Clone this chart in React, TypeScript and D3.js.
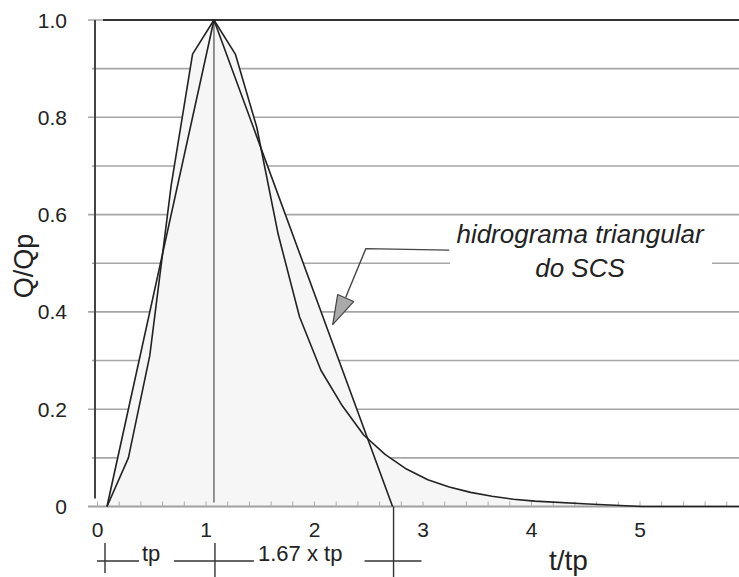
import * as d3 from "d3";

// SCS dimensionless unit hydrograph (t/tp, Q/Qp)
const curveT = [0, 0.2, 0.4, 0.6, 0.8, 1.0, 1.2, 1.4, 1.6, 1.8, 2.0, 2.2, 2.4, 2.6, 2.8, 3.0, 3.2, 3.4, 3.6, 3.8, 4.0, 4.5, 5.0, 5.5, 6.0];
const curveQ = [0, 0.1, 0.31, 0.66, 0.93, 1.0, 0.93, 0.78, 0.56, 0.39, 0.28, 0.207, 0.147, 0.107, 0.077, 0.055, 0.04, 0.029, 0.021, 0.015, 0.011, 0.005, 0, 0, 0];

// SCS triangular hydrograph
const triT = [0, 1, 2.67];
const triQ = [0, 1, 0];

const yGrid = [0.1, 0.2, 0.3, 0.4, 0.5, 0.6, 0.7, 0.8, 0.9, 1.0];
const yLabels = [0, 0.2, 0.4, 0.6, 0.8, 1.0];
const xLabels = [0, 1, 2, 3, 4, 5];
const xMinor = d3.range(0, 6.01, 0.2);

const W = 739;
const H = 577;

export default function App() {
  // data scale; the source's tick labels sit slightly left of the data, so they get their own scale
  const x = d3.scaleLinear().domain([0, 5.9]).range([107, 738]);
  const xAxis = d3.scaleLinear().domain([0, 6]).range([97.5, 748.5]);
  const y = d3.scaleLinear().domain([0, 1]).range([506.5, 20]);

  const curve = curveT.map((t, i) => [t, curveQ[i]] as [number, number]);
  const tri = triT.map((t, i) => [t, triQ[i]] as [number, number]);

  const line = d3.line<[number, number]>().x(d => x(d[0])).y(d => y(d[1]));
  const area = d3.area<[number, number]>().x(d => x(d[0])).y0(y(0)).y1(d => y(d[1]));

  const font = "'Liberation Sans', Arial, sans-serif";
  const lineColor = "#222";
  const markY = 561;

  // leader for the triangular hydrograph note, in data units
  const tip: [number, number] = [2.11, 0.374];
  const elbow: [number, number] = [2.42, 0.53];
  const leaderEnd: [number, number] = [3.2, 0.527];

  const tipX = x(tip[0]), tipY = y(tip[1]);
  const head = [
    [tipX, tipY],
    [tipX + 5, tipY - 30],
    [tipX + 21, tipY - 23],
  ];
  const headMid = [tipX + 13, tipY - 27];

  return (
    <svg width={W} height={H} style={{ position: "absolute", left: 0, top: 0, background: "#fff" }} fontFamily={font}>
      {/* horizontal grid */}
      {yGrid.map(v => (
        <line key={v} x1={yLabels.some(l => Math.abs(l - v) < 1e-6) ? 88 : 92} x2={W} y1={y(v)} y2={y(v)}
          stroke="#a6a6a6" strokeWidth={1.6} />
      ))}
      <line x1={103} x2={W} y1={y(1)} y2={y(1)} stroke="#333" strokeWidth={1.8} />

      {/* filled areas */}
      <path d={area(curve)!} fill="#f6f6f6" />
      <path d={area(tri)!} fill="#f6f6f6" />

      {/* peak line */}
      <line x1={x(1)} x2={x(1)} y1={y(1)} y2={y(0) - 4} stroke="#666" strokeWidth={1.4} />

      {/* y axis */}
      <line x1={95} x2={95} y1={y(1)} y2={y(0) - 8} stroke="#444" strokeWidth={2} />
      {yLabels.map(v => (
        <text key={v} x={67} y={y(v)} dy="0.36em" textAnchor="end" fontSize={21} fill="#222">
          {v === 0 ? "0" : d3.format(".1f")(v)}
        </text>
      ))}

      {/* x axis */}
      <line x1={88} x2={W} y1={y(0)} y2={y(0)} stroke="#a0a0a0" strokeWidth={2} />
      {xMinor.map(v => (
        <line key={v} x1={xAxis(v)} x2={xAxis(v)} y1={y(0)} y2={y(0) - 5} stroke="#aaa" strokeWidth={1} />
      ))}
      {xLabels.map(v => (
        <text key={v} x={xAxis(v)} y={537} textAnchor="middle" fontSize={21} fill="#222">{v}</text>
      ))}

      {/* hydrographs */}
      <path d={line(tri)!} fill="none" stroke={lineColor} strokeWidth={1.6} strokeLinejoin="round" />
      <path d={line(curve)!} fill="none" stroke={lineColor} strokeWidth={1.6} strokeLinejoin="round" />

      {/* tp markers */}
      <g stroke="#333" strokeWidth={1.4}>
        <line x1={x(0) - 10} x2={x(0) + 32} y1={markY} y2={markY} />
        <line x1={x(0) - 2} x2={x(0) - 2} y1={543} y2={573} />
        <line x1={x(1) - 40} x2={x(1) + 40} y1={markY} y2={markY} />
        <line x1={x(1) + 1} x2={x(1) + 1} y1={543} y2={H} />
        <line x1={x(2.67) - 28} x2={x(2.67) + 29} y1={markY} y2={markY} />
        <line x1={x(2.67) + 1} x2={x(2.67) + 1} y1={y(0)} y2={H} />
      </g>
      <text x={142} y={561} fontSize={22} fill="#222">tp</text>
      <text x={258} y={561} fontSize={22} fill="#222">1.67 x tp</text>
      <text x={549} y={570} fontSize={28} fill="#222">t/tp</text>

      {/* y title */}
      <text transform="translate(33,266) rotate(-90)" textAnchor="middle" fontSize={27} fill="#222">Q/Qp</text>

      {/* note */}
      <rect x={450} y={223} width={262} height={66} fill="#fff" />
      <text x={580} y={243} textAnchor="middle" fontSize={26} fontStyle="italic" fill="#222">hidrograma triangular</text>
      <text x={580} y={277} textAnchor="middle" fontSize={26} fontStyle="italic" fill="#222">do SCS</text>
      <polyline points={`${x(leaderEnd[0])},${y(leaderEnd[1])} ${x(elbow[0])},${y(elbow[1])} ${headMid[0]},${headMid[1]}`}
        fill="none" stroke="#444" strokeWidth={1.4} />
      <polygon points={head.map(p => p.join(",")).join(" ")} fill="#aaa" stroke="#444" strokeWidth={1.2} strokeLinejoin="round" />
    </svg>
  );
}
